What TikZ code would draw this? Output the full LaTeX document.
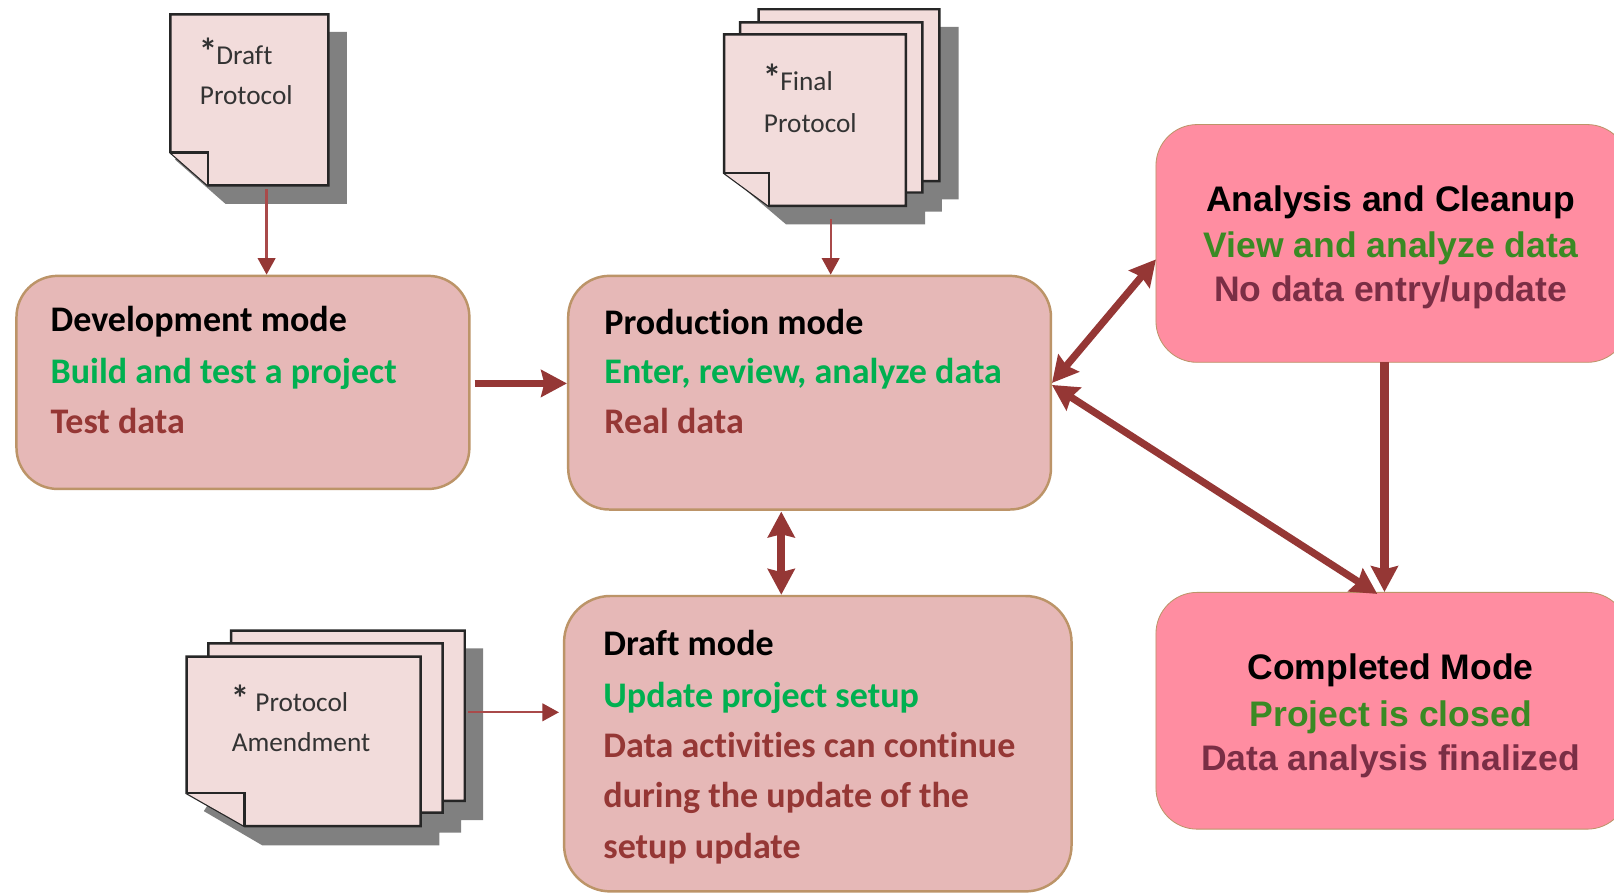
\documentclass[tikz,border=0pt]{standalone}
\usepackage{fontspec}
\setmainfont[Ligatures=NoCommon]{Carlito}
\newfontfamily\pinkfont{Liberation Sans}
\usetikzlibrary{arrows.meta,calc}
\definecolor{boxfill}{HTML}{E6B8B7}
\definecolor{boxline}{HTML}{BC9468}
\definecolor{pinkfill}{HTML}{FF8DA1}
\definecolor{sheetfill}{HTML}{F2DCDB}
\definecolor{shadowgray}{HTML}{808080}
\definecolor{arrowred}{HTML}{953735}
\definecolor{thinred}{HTML}{A94A4A}
\definecolor{brightgreen}{HTML}{00B050}
\definecolor{darkgreen}{HTML}{3A8A24}
\definecolor{plum}{HTML}{7A2E45}
\definecolor{doctext}{HTML}{333333}
\tikzset{
  x=1pt,y=-1pt,
  modebox/.style={draw=boxline,line width=2.4pt,fill=boxfill,rounded corners=40pt,inner sep=0pt},
  closebox/.style={draw=boxline,line width=0.8pt,fill=pinkfill,rounded corners=40pt,inner sep=0pt},
  modetext/.style={anchor=base west,inner sep=0pt,font=\fontsize{35}{40}\selectfont\bfseries},
  pinktext/.style={anchor=base,inner sep=0pt,font=\fontsize{34.5}{40}\selectfont\pinkfont\bfseries},
  doclabel/.style={anchor=base west,inner sep=0pt,text=doctext,font=\fontsize{26.5}{32}\selectfont},
  sheet/.style={fill=sheetfill,draw=black!85,line width=2.4pt,line join=miter},
  shadowshape/.style={fill=shadowgray,draw=none},
  thinarrow/.style={draw=thinred,line width=2.2pt,-{Triangle[length=16pt,width=17pt,color=arrowred]}},
  thickone/.style={draw=arrowred,line width=7pt,-{Stealth[length=25pt,width=26pt,inset=3pt]}},
  thickboth/.style={draw=arrowred,line width=7pt,{Stealth[length=25pt,width=26pt,inset=3pt]}-{Stealth[length=25pt,width=26pt,inset=3pt]}},
}
% under-sheet: left, top, right, bottom, x of the cut on the bottom edge, y of the cut on the left edge
\newcommand{\undersheet}[6]{\draw[sheet] (#1,#2) -- (#3,#2) -- (#3,#4) -- (#5,#4) -- (#1,#6) -- cycle;}
\newcommand{\foldsheet}[6]{%
  \draw[sheet] (#1,#2) -- (#3,#2) -- (#3,#4) -- (#5,#4) -- (#1,#6) -- cycle;
  \draw[sheet,fill=sheetfill] (#1,#6) -- (#5,#6) -- (#5,#4);}
\newcommand{\starmark}{{\fontsize{36}{36}\selectfont\bfseries *}}
\begin{document}
\begin{tikzpicture}
\useasboundingbox (0,0) rectangle (1568,869.5);
\clip (0,0) rectangle (1568,869.5);
\fill[white] (0,0) rectangle (1568,869.5);

% Draft protocol
\fill[shadowshape] (337,31) -- (337,198) -- (219,198) -- (170,155) -- (300,31) -- cycle;
\foldsheet{165.5}{14}{319}{180}{202}{148}
\node[doclabel] (draftA) at (193,62.5) {\starmark\hspace{-1pt}Draft};
\node[doclabel] (draftB) at (194,101.5) {Protocol};
\coordinate (draftOut) at (259,184);

% Final protocol
\fill[shadowshape] (931.4,26) -- (931.4,193.7) -- (915,193.7) -- (915,205.6) -- (898.7,205.6) -- (898.7,218) -- (763.7,218) -- (720.6,181.4) -- (800,26) -- cycle;
\undersheet{737}{9}{912.5}{176}{780}{144}
\undersheet{719}{21.7}{896}{187}{762}{155}
\foldsheet{703.5}{33.5}{880}{200}{747}{168}
\node[doclabel] (finalA) at (741,87.5) {\starmark\hspace{-1pt}Final};
\node[doclabel] (finalB) at (742,128.5) {Protocol};
\coordinate (finalOut) at (807,213);

% Protocol amendment
\fill[shadowshape] (469.3,630) -- (469.3,796.7) -- (448,796.7) -- (448,809) -- (426.8,809) -- (426.8,821.3) -- (254.9,821.3) -- (198,788) -- (300,630) -- cycle;
\undersheet{224.6}{612.7}{451.5}{778}{281}{746}
\undersheet{202.4}{625}{430}{789.5}{259}{757.5}
\foldsheet{181.3}{638}{408.7}{802.5}{237.7}{770.5}
\node[doclabel] (amendA) at (224,691.5) {\starmark\ Protocol};
\node[doclabel] (amendB) at (225,730.5) {Amendment};
\coordinate (amendOut) at (455,692);

% Mode boxes
\node[modebox,minimum width=440pt,minimum height=207pt] (dev) at (236,371.5) {};
\node[modebox,minimum width=469pt,minimum height=227pt] (prod) at (786.5,381.5) {};
\node[modebox,rounded corners=45pt,minimum width=493pt,minimum height=287pt] (draftm) at (794.5,722.5) {};
\node[closebox,minimum width=459pt,minimum height=231pt] (ana) at (1352.5,236.5) {};
\node[closebox,minimum width=459pt,minimum height=230pt] (comp) at (1352.5,690.5) {};

% Mode texts
\node[modetext,text=black] (devA) at (49,322.5) {Development mode};
\node[modetext,text=brightgreen] (devB) at (49,373) {Build and test a project};
\node[modetext,text=arrowred] (devC) at (49,421.5) {Test data};

\node[modetext,text=black] (prodA) at (587,324.5) {Production mode};
\node[modetext,text=brightgreen] (prodB) at (587,373) {Enter, review, analyze data};
\node[modetext,text=arrowred] (prodC) at (587,421.5) {Real data};

\node[modetext,text=black] (drA) at (586,636.5) {Draft mode};
\node[modetext,text=brightgreen] (drB) at (586,687.5) {Update project setup};
\node[modetext,text=arrowred] (drC) at (586,736) {Data activities can continue};
\node[modetext,text=arrowred] (drD) at (586,784.5) {during the update of the};
\node[modetext,text=arrowred] (drE) at (586,834.5) {setup update};

\node[pinktext,text=black] (anaA) at (1351,205) {Analysis and Cleanup};
\node[pinktext,text=darkgreen] (anaB) at (1351,250) {View and analyze data};
\node[pinktext,text=plum] (anaC) at (1351,293) {No data entry/update};

\node[pinktext,text=black] (compA) at (1351,660) {Completed Mode};
\node[pinktext,text=darkgreen] (compB) at (1351,706) {Project is closed};
\node[pinktext,text=plum] (compC) at (1351,749) {Data analysis finalized};

% Connectors
\draw[thinarrow] (draftOut) -- (draftOut |- dev.north);
\draw[thinarrow] (finalOut) -- (finalOut |- prod.north);
\coordinate (amendIn) at (543,692);
\draw[thinarrow] (amendOut) -- (amendIn);
\coordinate (devOut) at (461,372.5);
\draw[thickone,line width=7.5pt] (devOut) -- (devOut -| prod.west);
\coordinate (prodUp) at (1022,372);
\coordinate (anaIn) at (1123,252);
\draw[thickboth] (prodUp) -- (anaIn);
\coordinate (prodDown) at (1022,374);
\coordinate (compIn) at (1338,577);
\draw[thickboth] (prodDown) -- (compIn);
\coordinate (anaOut) at (1345,352);
\draw[thickone,line width=8pt] (anaOut) -- (anaOut |- comp.north);
\coordinate (prodBottom) at (759,497);
\draw[thickboth,line width=8pt] (prodBottom) -- (prodBottom |- draftm.north);
\end{tikzpicture}
\end{document}
